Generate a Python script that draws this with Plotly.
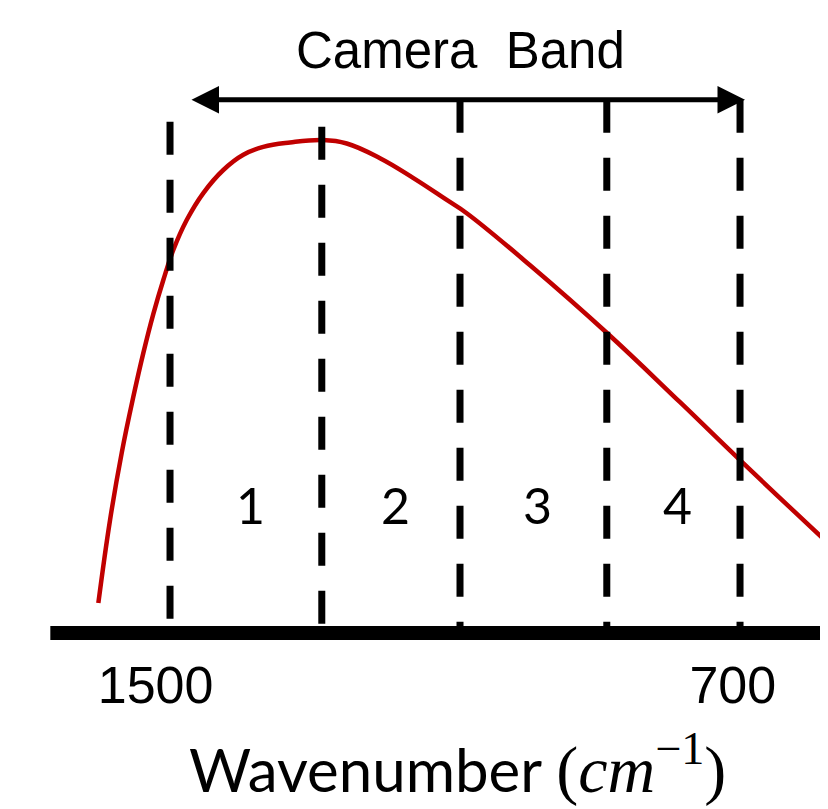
import plotly.graph_objects as go

# Spectrum (wavenumber in cm^-1, relative intensity)
wavenumber = [1600.6, 1584.2, 1567.8, 1551.5, 1537.5, 1523.4, 1509.4, 1495.4, 1476.6, 1453.3,
              1425.2, 1397.1, 1369.1, 1331.6, 1285.3, 1252.0, 1205.3, 1158.9, 1111.6, 1083.6,
              994.7, 886.7, 784.2, 700.0, 576.5]
intensity = [0.061, 0.230, 0.367, 0.481, 0.570, 0.650, 0.719, 0.780, 0.841, 0.896,
             0.943, 0.974, 0.990, 0.999, 1.004, 0.997, 0.967, 0.927, 0.882, 0.855,
             0.749, 0.611, 0.470, 0.352, 0.183]

# Camera band split into 4 sub-bands
band_edges = [1500, 1287, 1093, 887, 700]
band_labels = ['1', '2', '3', '4']
band_tops = [1.041, 1.031, 1.086, 1.086, 1.086]

tick_vals = [1500, 700]
tick_text = ['1500\u00a0\u00a0', '700\u00a0']

fig = go.Figure()

fig.add_trace(go.Scatter(
    x=wavenumber, y=intensity, mode='lines',
    line=dict(color='#C00000', width=4.5, shape='spline', smoothing=1.2),
    showlegend=False, hoverinfo='skip'
))

# Baseline
fig.add_shape(type='line', xref='x', yref='y', x0=1668, x1=560, y0=0, y1=0,
              line=dict(color='black', width=14), layer='above')

# Dashed band edges
for edge, top in zip(band_edges, band_tops):
    fig.add_shape(type='line', xref='x', yref='y', x0=edge, x1=edge, y0=top, y1=0,
                  line=dict(color='black', width=7, dash='33px,25px'), layer='above')

# Band numbers
for i, lab in enumerate(band_labels):
    fig.add_annotation(x=(band_edges[i] + band_edges[i + 1]) / 2 - 6, y=0.26, text=lab,
                       showarrow=False, font=dict(family='Lato', size=50, color='black'))

# Camera band arrow
fig.add_annotation(x=693, y=1.086, ax=1472, ay=1.086, xref='x', yref='y', axref='x', ayref='y',
                   text='', showarrow=True, arrowhead=2, arrowside='end+start',
                   arrowwidth=5, arrowsize=1.1, arrowcolor='black', standoff=0, startstandoff=0)
fig.add_annotation(x=1093, y=1.187, text='Camera\u00a0 Band', showarrow=False,
                   font=dict(family='Liberation Sans', size=51, color='black'))

# Axis title
fig.add_annotation(
    xref='paper', yref='paper', x=0.543, y=-0.188, xanchor='center', yanchor='middle',
    text="Wavenumber <span style=\"font-family:'Liberation Serif';font-size:66px\">"
         "(<i>cm</i><sup>\u22121</sup>)</span>",
    showarrow=False, font=dict(family='Lato', size=60, color='black'))

fig.update_layout(
    width=828, height=809,
    autosize=False,
    plot_bgcolor='white', paper_bgcolor='white',
    margin=dict(l=0, r=0, t=0, b=172, pad=0),
    xaxis=dict(
        range=[1727.4, 565.3], showgrid=False, zeroline=False, showline=False,
        tickvals=tick_vals, ticktext=tick_text, ticks='',
        tickfont=dict(family='Liberation Sans', size=52, color='black'),
        ticklabelstandoff=5,
    ),
    yaxis=dict(range=[-0.0244, 1.2729], visible=False),
)

fig.write_html('out.html')
